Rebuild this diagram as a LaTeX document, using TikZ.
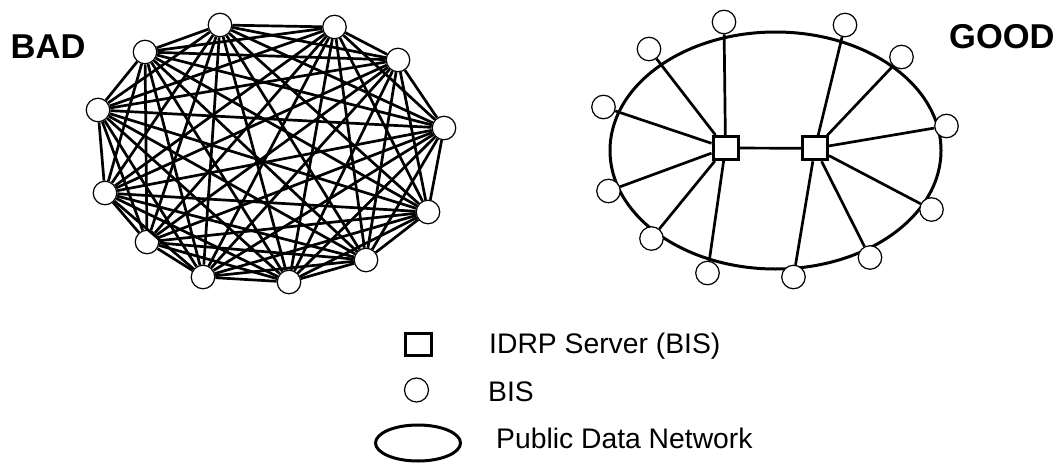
\documentclass[tikz,border=0pt]{standalone}
\usepackage{fontspec}
\setmainfont{Liberation Sans}
\usetikzlibrary{shapes.geometric}
\begin{document}
\begin{tikzpicture}[x=1pt,y=-1pt,
  bis/.style={circle,draw,fill=white,line width=1.2pt,minimum size=23.5pt,inner sep=0pt},
  srv/.style={rectangle,draw,fill=white,line width=3pt,minimum width=25pt,minimum height=23pt,inner sep=0pt},
  net/.style={ellipse,draw,line width=3pt,inner sep=0pt},
  link/.style={line width=2.7pt},
  lbl/.style={anchor=base west,inner sep=0pt,font=\fontsize{28.3}{34}\selectfont},
  ttl/.style={anchor=base west,inner sep=0pt,font=\bfseries\fontsize{34.5}{40}\selectfont}]
\useasboundingbox (0,0) rectangle (1063,463);

% titles
\node[ttl] (bad) at (10.5,58) {BAD};
\node[ttl] (good) at (949,48) {GOOD};

% BAD: fully meshed
\foreach \i/\x/\y in {1/220/25, 2/334.5/27, 3/145/52, 4/398/60, 5/98/110, 6/444/128,
                      7/105/193, 8/428/212, 9/147/242, 10/366/260, 11/203/277, 12/289/282}
  \node[bis] (b\i) at (\x,\y) {};
\foreach \i in {1,...,11}{
  \pgfmathtruncatemacro{\nxt}{\i+1}
  \foreach \j in {\nxt,...,12}
    \draw[link] (b\i) -- (b\j);
}

% GOOD: public data network with two servers
\node[net,minimum width=331pt,minimum height=237pt] (pdn) at (775.5,150.5) {};
\foreach \i/\x/\y in {1/724/22, 3/649/49, 5/603.5/107, 7/608.5/191, 9/651.5/238.5, 11/707.5/273,
                      2/845/25, 4/901.5/57, 6/946.5/126, 8/931.5/209.5, 10/870/257.5, 12/793.5/277}
  \node[bis] (g\i) at (\x,\y) {};
\node[srv] (s1) at (725.5,148) {};
\node[srv] (s2) at (815,148.3) {};
\draw[link] (s1) -- (s2);
\foreach \i in {1,3,5,7,9,11} \draw[link] (g\i) -- (s1);
\foreach \i in {2,4,6,8,10,12} \draw[link] (g\i) -- (s2);

% legend
\node[srv,minimum width=26pt,minimum height=22pt] (ls) at (418,344) {};
\node[lbl] (lst) at (489,353.5) {IDRP Server (BIS)};
\node[bis,minimum size=24pt] (lc) at (416.5,390) {};
\node[lbl] (lct) at (488,401.7) {BIS};
\node[net,minimum width=85pt,minimum height=36pt] (le) at (418,443) {};
\node[lbl] (let) at (496,448.3) {Public Data Network};
\end{tikzpicture}
\end{document}
